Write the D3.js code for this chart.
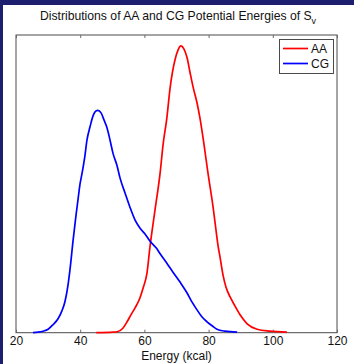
<!DOCTYPE html>
<html>
<head>
<meta charset="utf-8">
<script src="https://cdn.jsdelivr.net/npm/d3@7"></script>
<style>
  html, body { margin: 0; padding: 0; background: #1e1e6e; }
  svg { display: block; }
</style>
</head>
<body>
<script>
// Energy grid (kcal) and kernel density estimates for each model
const aaEnergy = [45.0, 50.2, 51.5, 53.3, 54.6, 55.8, 57.1, 58.6, 59.6, 60.8, 61.7, 63.3, 64.9, 65.8, 67.0, 68.0, 69.5, 70.5, 71.4, 72.3, 73.3, 74.2, 75.1, 76.4, 77.3, 78.6, 79.8, 81.4, 82.3, 82.9, 83.6, 84.5, 85.4, 86.7, 88.2, 89.8, 92.0, 95.1, 99.1, 104.4];
const aaDensity = [0.0000, 0.0001, 0.0002, 0.0009, 0.0022, 0.0036, 0.0050, 0.0070, 0.0090, 0.0120, 0.0171, 0.0247, 0.0322, 0.0378, 0.0433, 0.0493, 0.0549, 0.0570, 0.0578, 0.0572, 0.0554, 0.0525, 0.0497, 0.0463, 0.0433, 0.0378, 0.0322, 0.0253, 0.0207, 0.0177, 0.0151, 0.0116, 0.0092, 0.0072, 0.0054, 0.0036, 0.0018, 0.0007, 0.0003, 0.0001];

const cgEnergy = [25.3, 26.9, 28.4, 30.0, 31.5, 33.1, 34.3, 35.3, 36.2, 36.8, 37.8, 38.7, 39.3, 39.9, 40.6, 41.5, 42.1, 43.1, 44.0, 44.9, 45.5, 46.5, 47.4, 48.3, 49.3, 50.2, 51.5, 52.4, 54.0, 55.5, 57.1, 58.6, 60.2, 61.7, 63.9, 64.9, 67.0, 68.9, 71.1, 73.3, 74.8, 76.4, 77.9, 79.5, 81.1, 82.6, 85.1, 88.9];
const cgDensity = [0.0000, 0.0001, 0.0003, 0.0007, 0.0016, 0.0028, 0.0044, 0.0064, 0.0096, 0.0126, 0.0187, 0.0237, 0.0267, 0.0298, 0.0322, 0.0358, 0.0388, 0.0416, 0.0437, 0.0447, 0.0448, 0.0443, 0.0429, 0.0414, 0.0388, 0.0362, 0.0336, 0.0312, 0.0281, 0.0253, 0.0227, 0.0211, 0.0199, 0.0185, 0.0169, 0.0159, 0.0140, 0.0122, 0.0102, 0.0080, 0.0062, 0.0046, 0.0032, 0.0022, 0.0014, 0.0007, 0.0003, 0.0001];

const xTicks = [20, 40, 60, 80, 100, 120];
const seriesNames = ["AA", "CG"];
const seriesColors = ["#ff0000", "#0000ff"];

const W = 354, H = 364;
const FONT = "'Liberation Sans', Arial, Helvetica, sans-serif";
const FS = 12;

const svg = d3.select("body").append("svg")
  .attr("width", W).attr("height", H);

// white figure area with a navy frame on the left and top
svg.append("rect").attr("x", 0).attr("y", 0).attr("width", W).attr("height", H).attr("fill", "#1e1e6e");
svg.append("rect").attr("x", 3).attr("y", 5).attr("width", W - 3).attr("height", H - 5).attr("fill", "#ffffff");

const plot = { left: 16, right: 337, top: 35, bottom: 332.7 };

const x = d3.scaleLinear().domain([20, 120]).range([plot.left, plot.right]);
const y = d3.scaleLinear().domain([0, 0.06]).range([plot.bottom, plot.top]);

// axes box
svg.append("rect")
  .attr("x", plot.left).attr("y", plot.top)
  .attr("width", plot.right - plot.left).attr("height", plot.bottom - plot.top)
  .attr("fill", "none").attr("stroke", "#4a4a4a").attr("stroke-width", 1);

// bottom axis: inward ticks with labels
const xAxis = d3.axisBottom(x).tickValues(xTicks).tickSizeInner(-3).tickSizeOuter(0).tickPadding(4);
const gx = svg.append("g").attr("transform", `translate(0,${plot.bottom})`).call(xAxis);
gx.select(".domain").remove();
gx.selectAll(".tick line").attr("stroke", "#6a6a6a");
gx.selectAll(".tick text")
  .attr("font-family", FONT).attr("font-size", FS).attr("fill", "#111");

// top axis: inward ticks only
const xTop = d3.axisTop(x).tickValues(xTicks).tickSizeInner(-3).tickSizeOuter(0).tickFormat("");
const gt = svg.append("g").attr("transform", `translate(0,${plot.top})`).call(xTop);
gt.select(".domain").remove();
gt.selectAll(".tick line").attr("stroke", "#6a6a6a");

// density curves
const line = d3.line().x(d => x(d[0])).y(d => y(d[1])).curve(d3.curveMonotoneX);
const series = [
  d3.zip(aaEnergy, aaDensity),
  d3.zip(cgEnergy, cgDensity)
];
series.forEach((pts, i) => {
  svg.append("path").datum(pts)
    .attr("d", line)
    .attr("fill", "none")
    .attr("stroke", seriesColors[i])
    .attr("stroke-width", 1.7)
    .attr("stroke-linejoin", "round");
});

// title with subscript
const title = svg.append("text")
  .attr("x", 178).attr("y", 20)
  .attr("text-anchor", "middle")
  .attr("font-family", FONT).attr("font-size", 12.2).attr("fill", "#111");
title.append("tspan").text("Distributions of AA and CG Potential Energies of S");
title.append("tspan").attr("font-size", 9).attr("dy", 4).text("v");

// x label
svg.append("text")
  .attr("x", (plot.left + plot.right) / 2).attr("y", 360)
  .attr("text-anchor", "middle")
  .attr("font-family", FONT).attr("font-size", FS).attr("fill", "#111")
  .text("Energy (kcal)");

// legend
const lg = svg.append("g");
lg.append("rect")
  .attr("x", 279.5).attr("y", 39.5).attr("width", 54).attr("height", 34)
  .attr("fill", "#ffffff").attr("stroke", "#4a4a4a").attr("stroke-width", 1);
seriesNames.forEach((name, i) => {
  const ly = 48.5 + i * 15;
  lg.append("line")
    .attr("x1", 283).attr("x2", 308).attr("y1", ly).attr("y2", ly)
    .attr("stroke", seriesColors[i]).attr("stroke-width", 1.7);
  lg.append("text")
    .attr("x", 311).attr("y", ly + 4)
    .attr("font-family", FONT).attr("font-size", FS).attr("fill", "#111")
    .text(name);
});
</script>
</body>
</html>
